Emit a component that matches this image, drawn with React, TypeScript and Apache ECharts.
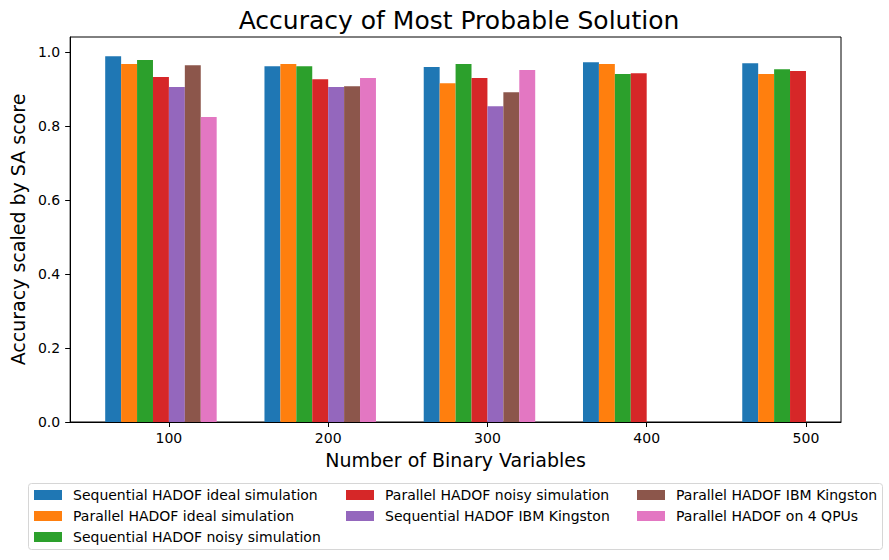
import React, { useEffect, useRef } from "react";
import * as echarts from "echarts";

const FONT = "DejaVu Sans";

const binaryVariables = [100, 200, 300, 400, 500];
const yTicks = [0, 0.2, 0.4, 0.6, 0.8, 1.0];

const seriesNames = [
  "Sequential HADOF ideal simulation",
  "Parallel HADOF ideal simulation",
  "Sequential HADOF noisy simulation",
  "Parallel HADOF noisy simulation",
  "Sequential HADOF IBM Kingston",
  "Parallel HADOF IBM Kingston",
  "Parallel HADOF on 4 QPUs",
];

const colors = ["#1f77b4", "#ff7f0e", "#2ca02c", "#d62728", "#9467bd", "#8c564b", "#e377c2"];

const seqIdeal = [0.988, 0.961, 0.959, 0.972, 0.969];
const parIdeal = [0.967, 0.967, 0.915, 0.967, 0.94];
const seqNoisy = [0.978, 0.961, 0.967, 0.94, 0.953];
const parNoisy = [0.932, 0.926, 0.929, 0.942, 0.948];
const seqKingston = [0.905, 0.905, 0.853, null, null];
const parKingston = [0.964, 0.907, 0.891, null, null];
const par4QPUs = [0.824, 0.929, 0.951, null, null];

const seriesValues = [seqIdeal, parIdeal, seqNoisy, parNoisy, seqKingston, parKingston, par4QPUs];

const BAR_W = 10; // bar width in x-data units (like matplotlib width=10)

export default function App() {
  const ref = useRef<HTMLDivElement>(null);
  useEffect(() => {
    if (!ref.current) return;
    const chart = echarts.init(ref.current, null, { renderer: "svg" });
    const barSeries: any[] = seriesValues.map((vals, i) => ({
      type: "custom",
      name: seriesNames[i],
      itemStyle: { color: colors[i] },
      encode: { x: 0, y: 1 },
      data: vals
        .map((v, j) => (v == null ? null : [binaryVariables[j], v]))
        .filter((d) => d !== null),
      renderItem: (params: any, api: any) => {
        const xv = api.value(0);
        const yv = api.value(1);
        const left = xv + (i - 4) * BAR_W;
        const p0 = api.coord([left, yv]);
        const p1 = api.coord([left + BAR_W, 0]);
        return {
          type: "rect",
          shape: { x: p0[0], y: p0[1], width: p1[0] - p0[0], height: p1[1] - p0[1] },
          style: { fill: colors[i] },
        };
      },
    }));

    const legendBase = {
      orient: "vertical",
      top: 488,
      padding: 0,
      itemWidth: 28,
      itemHeight: 10,
      itemGap: 7,
      icon: "rect",
      textStyle: { fontFamily: FONT, fontSize: 14, color: "#000", lineHeight: 14, padding: [0, 0, 0, 6] },
    };

    chart.setOption({
      animation: false,
      backgroundColor: "#fff",
      textStyle: { fontFamily: FONT },
      title: {
        text: "Accuracy of Most Probable Solution",
        left: 454,
        textAlign: "center",
        top: 3,
        textStyle: { fontFamily: FONT, fontSize: 25, fontWeight: "normal", color: "#000" },
      },
      grid: {
        left: 67,
        right: 48,
        top: 37,
        bottom: 138,
        show: true,
        borderColor: "#000",
        borderWidth: 1,
        backgroundColor: "transparent",
      },
      xAxis: {
        type: "value",
        min: 38,
        max: 522,
        name: "Number of Binary Variables",
        nameLocation: "middle",
        nameGap: 28,
        nameTextStyle: { fontFamily: FONT, fontSize: 19, color: "#000" },
        axisLine: { show: true, lineStyle: { color: "#000", width: 1 } },
        axisTick: { show: true, length: 5, lineStyle: { color: "#000" }, customValues: binaryVariables },
        axisLabel: { fontFamily: FONT, fontSize: 14, color: "#000", margin: 9, customValues: binaryVariables },
        splitLine: { show: false },
      },
      yAxis: {
        type: "value",
        min: 0,
        max: 1.04,
        name: "Accuracy scaled by SA score",
        nameLocation: "middle",
        nameGap: 39,
        nameTextStyle: { fontFamily: FONT, fontSize: 19, color: "#000" },
        axisLine: { show: true, lineStyle: { color: "#000", width: 1 } },
        axisTick: { show: true, length: 5, lineStyle: { color: "#000" }, customValues: yTicks },
        axisLabel: {
          fontFamily: FONT,
          fontSize: 14,
          color: "#000",
          margin: 10,
          customValues: yTicks,
          formatter: (v: number) => v.toFixed(1),
        },
        splitLine: { show: false },
      },
      legend: [
        { ...legendBase, left: 34, data: seriesNames.slice(0, 3) },
        { ...legendBase, left: 346, data: seriesNames.slice(3, 5) },
        { ...legendBase, left: 637, data: seriesNames.slice(5, 7) },
      ],
      graphic: [
        {
          type: "rect",
          z: -1,
          shape: { x: 28.5, y: 483.5, width: 854, height: 66, r: 3 },
          style: { fill: "none", stroke: "#d6d6d6", lineWidth: 1 },
        },
      ],
      series: barSeries,
    });
    return () => chart.dispose();
  }, []);
  return (
    <div
      ref={ref}
      style={{ position: "fixed", left: 0, top: 0, width: 889, height: 560 }}
    />
  );
}
